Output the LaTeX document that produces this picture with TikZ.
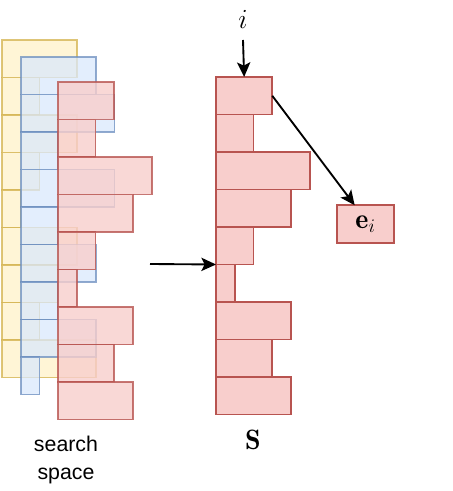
\documentclass[tikz,border=0pt]{standalone}
\usepackage{amsmath}
\usepackage{fontspec}
\setsansfont{Liberation Sans}
\usetikzlibrary{arrows.meta,positioning}
\definecolor{cYellow}{HTML}{FFF2CC}
\definecolor{cYellowD}{HTML}{D6B656}
\definecolor{cBlue}{HTML}{DAE8FC}
\definecolor{cBlueD}{HTML}{6C8EBF}
\definecolor{cRed}{HTML}{F8CECC}
\definecolor{cRedD}{HTML}{B85450}
\tikzset{
  cell/.style={rectangle,line width=1.4pt,inner sep=0pt,outer sep=0pt,
               anchor=north west,minimum height=28.125pt},
  ycell/.style={cell,fill=cYellow,draw=cYellowD,opacity=0.8},
  bcell/.style={cell,fill=cBlue,draw=cBlueD,opacity=0.75},
  rcell/.style={cell,fill=cRed,draw=cRedD,opacity=0.8},
  scell/.style={cell,fill=cRed,draw=cRedD},
  mathlbl/.style={font=\fontsize{21}{25}\selectfont,inner sep=1pt},
  arr/.style={-{Stealth[length=11pt,width=10pt,inset=2.5pt]},line width=1.4pt}
}

\begin{document}
\begin{tikzpicture}[x=0.75pt,y=-0.75pt]
  \useasboundingbox (0,0) rectangle (452,491);

  % Search space: three stacked layers
  \foreach \w [count=\k] in {4,2,4,2,1,4,3,2,5}
    \node[ycell,minimum width=\w*14.0625pt] (y\k) at (2,{40+(\k-1)*37.5}) {};
  \foreach \w [count=\k] in {4,5,2,5,2,4,2,4,1}
    \node[bcell,minimum width=\w*14.0625pt] (b\k) at (20.75,{57+(\k-1)*37.5}) {};
  \foreach \w [count=\k] in {3,2,5,4,2,1,4,3,4}
    \node[rcell,minimum width=\w*14.0625pt] (r\k) at (58,{82+(\k-1)*37.5}) {};

  \node[font=\fontsize{16}{21}\selectfont\sffamily,align=center] (space)
      at (66,460) {search\\space};

  % Selected list S
  \foreach \w [count=\k] in {3,2,5,4,2,1,4,3,4}
    \node[scell,minimum width=\w*14.0625pt] (s\k) at (216,{77+(\k-1)*37.5}) {};

  \node[mathlbl] (slbl) at (253,440) {$\mathbf{S}$};

  % Embedding
  \node[scell,minimum width=42.1875pt,anchor=center,mathlbl] (ei)
      at (365.5,224) {$\mathbf{e}_i$};

  % Index input
  \node[mathlbl] (ilbl) at (243,19) {$i$};
  \coordinate (istart) at (243,40);
  \coordinate (instart) at (150,264);

  % Arrows
  \draw[arr] (istart) -- (s1.north);
  \draw[arr] (s1.east) -- (ei.120);
  \draw[arr] (instart) -- (s5.south west);

\end{tikzpicture}
\end{document}
